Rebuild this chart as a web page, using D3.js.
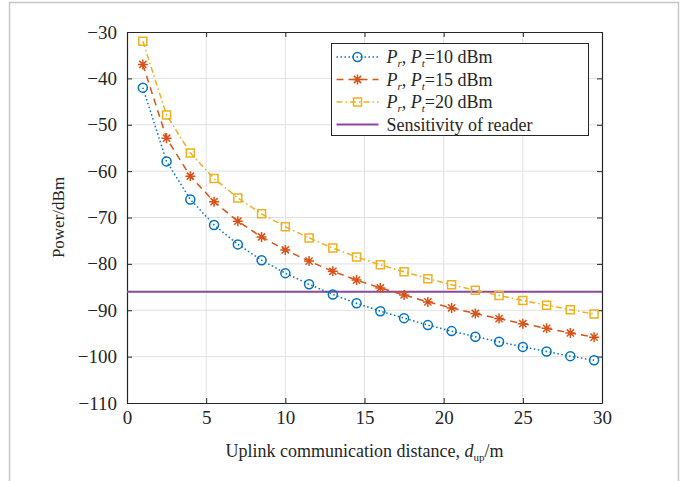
<!DOCTYPE html>
<meta charset="utf-8">
<style>
body { margin: 0; background: #fff; }
text { font-family: "Liberation Serif", "DejaVu Serif", serif; fill: #262626; }
.tick text { font-size: 19px; }
.grid line { stroke: #e0e0e0; stroke-width: 1; }
.axis path, .axis line { stroke: #262626; }
</style>
<svg width="685" height="481"></svg>
<script src="https://d3js.org/d3.v7.min.js"></script>
<script>

// data
var distances = [1, 2.5, 4, 5.5, 7, 8.5, 10, 11.5, 13, 14.5, 16, 17.5, 19, 20.5, 22, 23.5, 25, 26.5, 28, 29.5];
var pr10 = [-42, -57.9, -66.1, -71.6, -75.8, -79.2, -82, -84.4, -86.6, -88.5, -90.2, -91.7, -93.2, -94.5, -95.7, -96.8, -97.9, -98.9, -99.9, -100.8];
var pr15 = [-37, -52.9, -61.1, -66.6, -70.8, -74.2, -77, -79.4, -81.6, -83.5, -85.2, -86.7, -88.2, -89.5, -90.7, -91.8, -92.9, -93.9, -94.9, -95.8];
var pr20 = [-32, -47.9, -56.1, -61.6, -65.8, -69.2, -72, -74.4, -76.6, -78.5, -80.2, -81.7, -83.2, -84.5, -85.7, -86.8, -87.9, -88.9, -89.9, -90.8];
var sensitivity = -86;
var xTicks = [0, 5, 10, 15, 20, 25, 30];
var yTicks = [-110, -100, -90, -80, -70, -60, -50, -40, -30];
var legendPt = ["10", "15", "20"];

var svg = d3.select("svg");

// outer frame of the figure
svg.append("rect")
  .attr("x", 9.5).attr("y", 2.5)
  .attr("width", 669).attr("height", 500)
  .attr("fill", "none").attr("stroke", "#c8c8c8").attr("stroke-width", 1.5);

var pLeft = 127, pRight = 602, pTop = 32, pBottom = 403;

var x = d3.scaleLinear().domain([0, 30]).range([pLeft, pRight]);
var y = d3.scaleLinear().domain([-110, -30]).range([pBottom, pTop]);

// grid
svg.append("g").attr("class", "grid")
  .selectAll("line").data(xTicks.slice(1, -1)).join("line")
  .attr("x1", d => x(d)).attr("x2", d => x(d))
  .attr("y1", pTop).attr("y2", pBottom);
svg.append("g").attr("class", "grid")
  .selectAll("line").data(yTicks.slice(1, -1)).join("line")
  .attr("x1", pLeft).attr("x2", pRight)
  .attr("y1", d => y(d)).attr("y2", d => y(d));

// axes, ticks pointing inwards
svg.append("g").attr("class", "axis")
  .attr("transform", "translate(0," + pBottom + ")")
  .call(d3.axisBottom(x).tickValues(xTicks).tickSizeInner(-5).tickSizeOuter(0).tickPadding(8));
svg.append("g").attr("class", "axis")
  .attr("transform", "translate(" + pLeft + ",0)")
  .call(d3.axisLeft(y).tickValues(yTicks).tickSizeInner(-5).tickSizeOuter(0).tickPadding(10));
svg.append("g").attr("class", "axis")
  .attr("transform", "translate(0," + pTop + ")")
  .call(d3.axisTop(x).tickValues(xTicks).tickSizeInner(-5).tickSizeOuter(0).tickFormat(""));
svg.append("g").attr("class", "axis")
  .attr("transform", "translate(" + pRight + ",0)")
  .call(d3.axisRight(y).tickValues(yTicks).tickSizeInner(-5).tickSizeOuter(0).tickFormat(""));
svg.selectAll(".axis .domain").attr("stroke-width", 1.2);

// labels
svg.append("text")
  .attr("x", (pLeft + pRight) / 2).attr("y", 457)
  .attr("text-anchor", "middle").style("font-size", "18px")
  .html('Uplink communication distance, <tspan font-style="italic">d</tspan><tspan dy="4" font-size="11px">up</tspan><tspan dy="-4">/m</tspan>');
svg.append("text")
  .attr("transform", "translate(64," + ((pTop + pBottom) / 2) + ") rotate(-90)")
  .attr("text-anchor", "middle").style("font-size", "17px")
  .text("Power/dBm");

// sensitivity line
svg.append("line")
  .attr("x1", pLeft).attr("x2", pRight)
  .attr("y1", y(sensitivity)).attr("y2", y(sensitivity))
  .attr("stroke", "#8a479c").attr("stroke-width", 2);

var series = [
  { values: pr10, color: "#0072BD", dash: "1.5,2.5", marker: "circle" },
  { values: pr15, color: "#D95319", dash: "7,5", marker: "star" },
  { values: pr20, color: "#EDB120", dash: "6,3,1.5,3", marker: "square" }
];

function markerPath(type) {
  if (type == "circle") {
    return "M4.5,0A4.5,4.5 0 1,1 -4.5,0A4.5,4.5 0 1,1 4.5,0Z";
  } else if (type == "square") {
    return "M-4,-4H4V4H-4Z";
  } else {
    return "M-5,0H5M0,-5V5M-3.6,-3.6L3.6,3.6M-3.6,3.6L3.6,-3.6";
  }
}

var line = d3.line().x(d => x(d[0])).y(d => y(d[1]));

series.forEach(function(s) {
  var pts = distances.map((d, i) => [d, s.values[i]]);
  svg.append("path")
    .datum(pts)
    .attr("d", line)
    .attr("fill", "none")
    .attr("stroke", s.color)
    .attr("stroke-width", 1.5)
    .attr("stroke-dasharray", s.dash);
  svg.append("g").selectAll("path").data(pts).join("path")
    .attr("transform", d => "translate(" + x(d[0]) + "," + y(d[1]) + ")")
    .attr("d", markerPath(s.marker))
    .attr("fill", "none")
    .attr("stroke", s.color)
    .attr("stroke-width", 1.5);
});

// legend
var lg = svg.append("g").attr("transform", "translate(331.5,43.5)");
lg.append("rect")
  .attr("width", 257).attr("height", 92)
  .attr("fill", "#fff").attr("stroke", "#262626").attr("stroke-width", 1);

var rows = series.concat([{ color: "#8a479c", dash: null, marker: null }]);
rows.forEach(function(s, i) {
  var cy = 13.5 + i * 22.5;
  lg.append("line")
    .attr("x1", 5).attr("x2", 47).attr("y1", cy).attr("y2", cy)
    .attr("stroke", s.color)
    .attr("stroke-width", s.marker ? 1.5 : 2)
    .attr("stroke-dasharray", s.dash);
  if (s.marker) {
    lg.append("path")
      .attr("transform", "translate(26," + cy + ")")
      .attr("d", markerPath(s.marker))
      .attr("fill", "none").attr("stroke", s.color).attr("stroke-width", 1.5);
  }
  var t = lg.append("text").attr("x", 55).attr("y", cy + 6).style("font-size", "18px");
  if (i < 3) {
    t.html('<tspan font-style="italic">P</tspan><tspan dy="4" font-size="11px" font-style="italic">r</tspan><tspan dy="-4">, </tspan><tspan font-style="italic">P</tspan><tspan dy="4" font-size="11px" font-style="italic">t</tspan><tspan dy="-4">=' + legendPt[i] + ' dBm</tspan>');
  } else {
    t.text("Sensitivity of reader");
  }
});

</script>
